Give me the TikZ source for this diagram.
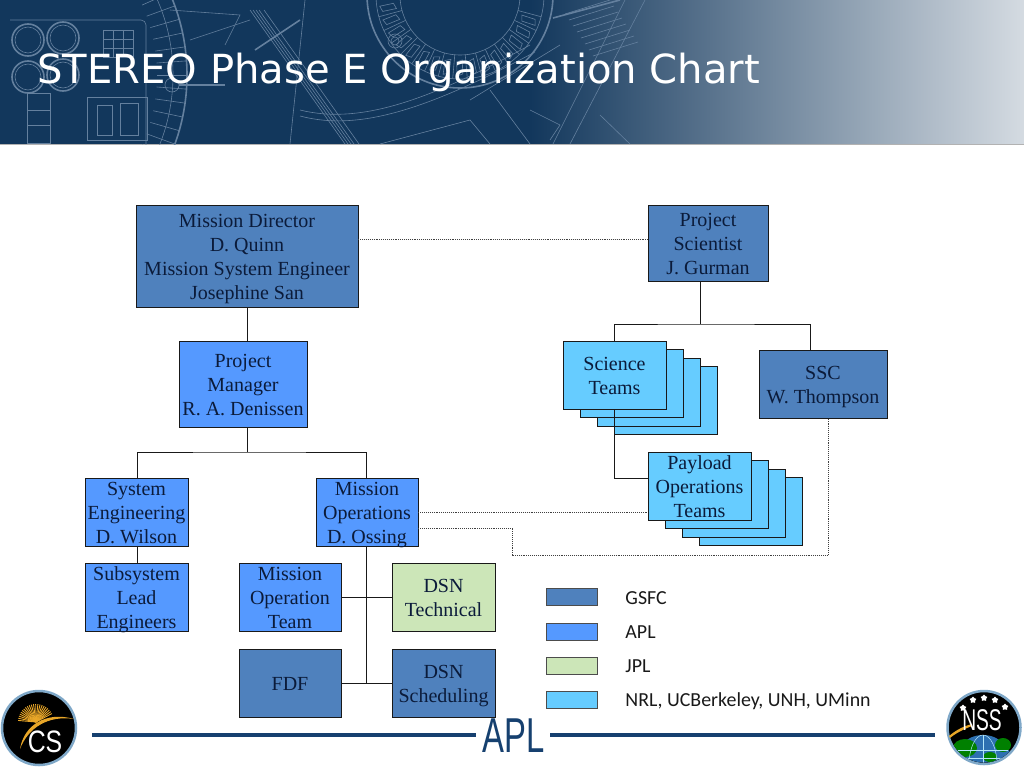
\documentclass[tikz,border=0pt]{standalone}
\usepackage{fontspec}
\setmainfont{Liberation Serif}
\newfontfamily\legendfont{Carlito}
\newfontfamily\titlefont{DejaVu Sans}
\newfontfamily\logofont{Liberation Sans}
\usetikzlibrary{shapes.geometric}

\definecolor{navy}{HTML}{12375C}
\definecolor{sheet}{HTML}{64809E}
\definecolor{ink}{HTML}{0B1B3A}
\definecolor{gsfc}{HTML}{4F81BD}
\definecolor{apl}{HTML}{5599FF}
\definecolor{jpl}{HTML}{CCE6B8}
\definecolor{nrl}{HTML}{66CCFF}
\definecolor{rule}{HTML}{16406F}
\definecolor{badge}{HTML}{7FA8C8}
\definecolor{sun}{HTML}{E8A628}

% box text, centred on the box whatever its number of lines
\newcommand{\unittext}[1]{\raisebox{-7.7pt}[0pt][0pt]{\begin{tabular}{@{}c@{}}#1\end{tabular}}}

\begin{document}
\begin{tikzpicture}[
            x = 1pt, y = -1pt, % reference pixels, y going down
            line width = 0.9pt % line style
        ]

        \tikzstyle{every node}=[inner sep = 0pt]
        \tikzstyle{unit}=[
            draw = black!90,
            rectangle,
            text = ink,
            font = \fontsize{20}{24}\selectfont
        ]
        \tikzstyle{legendbox}=[
            draw = black!70,
            rectangle,
            minimum width = 51pt,
            minimum height = 17pt
        ]
        \tikzstyle{legendtext}=[
            anchor = west,
            text = black!90,
            font = \legendfont\fontsize{19.9}{22}\selectfont
        ]
        \tikzstyle{tie}=[black!90]
        \tikzstyle{dots}=[black!75, line width = 0.9pt, densely dotted]
        \tikzstyle{sheetline}=[sheet, line width = 0.6pt]
        \tikzstyle{sheetband}=[sheet, line width = 1.6pt]

        \useasboundingbox (0,0) rectangle (1024,768);

        % banner
        \fill[navy] (0,0) rectangle (530,144);
        \shade[left color = navy, middle color = navy!48!white, right color = navy!18!white,
            shading angle = 90] (530,0) rectangle (1024,144);
        \fill[black!30] (0,144) rectangle (1024,145);
        \begin{scope}
            \clip (0,0) rectangle (660,144);
            % left drawing
            \coordinate (wheel) at (-15,75);
            \draw[sheetband] (wheel) circle (202);
            \draw[sheetline] (wheel) circle (188);
            \foreach \a in {-36,-32,...,36} {
                \draw[sheetline] (wheel) ++(\a:172) -- ++(\a:30);
            }
            \draw[sheetline, rounded corners = 5pt] (10,20) -- (146,20) -- (146,160);
            \foreach \cx/\cy in {28/40, 63/38, 28/77, 63/75} {
                \draw[sheetband] (\cx,\cy) circle (16);
                \draw[sheetline] (\cx,\cy) circle (13);
            }
            \draw[sheetline] (27,93) rectangle (50,143);
            \draw[sheetline] (27,110) -- (50,110);
            \draw[sheetline] (27,125) -- (50,125);
            \draw[sheetline] (87,97) rectangle (147,140);
            \draw[sheetline] (97,105) rectangle (112,135);
            \draw[sheetline] (120,103) rectangle (138,135);
            \foreach \k in {0,...,3} {
                \draw[sheetline] (103+10*\k,30) -- (103+10*\k,57);
                \draw[sheetline] (103,30+9*\k) -- (133,30+9*\k);
            }
            \draw[sheetline] (172,85) circle (7);
            \draw[sheetband] (179,85) -- (225,85);
            \draw[sheetline] (170,10) -- (240,15) -- (225,45);
            \draw[sheetline] (190,40) -- (250,20);
            % beams across the middle
            \foreach \k in {0,3,6,9,14} {
                \draw[sheetline] (250+\k,10) -- (345+\k,144);
            }
            \draw[sheetband] (300,20) -- (255,50);
            \draw[sheetline] (305,0) -- (290,144);
            \draw[sheetline] (300,110) .. controls (360,125) and (430,100) .. (530,45);
            \draw[sheetline] (300,116) .. controls (360,132) and (430,108) .. (535,52);
            % ring of the right drawing
            \coordinate (ring) at (460,-5);
            \draw[sheetband] (ring) circle (93);
            \draw[sheetline] (ring) circle (84);
            \draw[sheetline] (ring) circle (60);
            \foreach \a in {15,25,...,165} {
                \draw[sheetline] (ring) ++(\a:60) -- ++(\a:24);
                \draw[sheetline] (ring) ++(\a+3:65) -- ++(\a+3:14) -- ++(\a+75:6) -- ++(\a+183:14) -- cycle;
            }
            \draw[sheetline] (395,41) circle (7);
            \draw[sheetline] (395,41) circle (4);
            % right hand sheet
            \foreach \k in {0,...,7} {
                \draw[sheetline] (565+4*\k,14+6*\k) -- (610+4*\k,0+6*\k);
            }
            \draw[sheetband] (553,18) -- (620,0);
            \draw[sheetline] (625,0) -- (553,144);
            \draw[sheetline] (645,0) -- (570,144);
            \draw[sheetline] (470,100) -- (560,45);
            \draw[sheetline] (490,90) -- (530,144);
            \draw[sheetline] (530,110) -- (560,125) -- (550,140);
            \draw[sheetline] (380,144) -- (470,120) -- (490,144);
            \draw[sheetline] (600,115) -- (630,144);
        \end{scope}
        \node[anchor = base west, text = white,
            font = \titlefont\fontsize{40.1}{48}\selectfont] (title) at (37,83)
            {STEREO Phase E Organization Chart};

        % team stacks, back to front
        \foreach \dx/\dy in {51/25.5, 34/17, 17/8.5} {
            \node[unit, fill = nrl, minimum width = 103pt, minimum height = 68pt]
                at (614.5+\dx,375+\dy) {};
            \node[unit, fill = nrl, minimum width = 103pt, minimum height = 68pt]
                at (699.5+\dx,486+\dy) {};
        }

        \node[unit, fill = gsfc, minimum width = 222pt, minimum height = 102pt] (md) at (247,256)
            {\unittext{Mission Director\\D. Quinn\\Mission System Engineer\\Josephine San}};
        \node[unit, fill = gsfc, minimum width = 120pt, minimum height = 76pt] (ps) at (708,243)
            {\unittext{Project\\Scientist\\J. Gurman}};
        \node[unit, fill = apl, minimum width = 128pt, minimum height = 86pt] (pm) at (243,384)
            {\unittext{Project\\Manager\\R. A. Denissen}};
        \node[unit, fill = apl, minimum width = 103pt, minimum height = 68pt] (se) at (136.5,512)
            {\unittext{System\\Engineering\\D. Wilson}};
        \node[unit, fill = apl, minimum width = 102pt, minimum height = 68pt] (mo) at (367,512)
            {\unittext{Mission\\Operations\\D. Ossing}};
        \node[unit, fill = apl, minimum width = 103pt, minimum height = 68pt] (sl) at (136.5,597)
            {\unittext{Subsystem\\Lead\\Engineers}};
        \node[unit, fill = apl, minimum width = 102pt, minimum height = 68pt] (mot) at (290,597)
            {\unittext{Mission\\Operation\\Team}};
        \node[unit, fill = jpl, minimum width = 103pt, minimum height = 68pt] (dt) at (443.5,597)
            {\unittext{DSN\\Technical}};
        \node[unit, fill = gsfc, minimum width = 102pt, minimum height = 68pt] (fdf) at (290,683)
            {\unittext{FDF}};
        \node[unit, fill = gsfc, minimum width = 103pt, minimum height = 68pt] (ds) at (443.5,683)
            {\unittext{DSN\\Scheduling}};
        \node[unit, fill = nrl, minimum width = 103pt, minimum height = 68pt] (st) at (614.5,375)
            {\unittext{Science\\Teams}};
        \node[unit, fill = nrl, minimum width = 103pt, minimum height = 68pt] (pt) at (699.5,486)
            {\unittext{Payload\\Operations\\Teams}};
        \node[unit, fill = gsfc, minimum width = 128pt, minimum height = 68pt] (ssc) at (823,384)
            {\unittext{SSC\\W. Thompson}};

        \coordinate (pmfork) at (247,452);
        \coordinate (psfork) at (700,324);
        \coordinate (ops) at (366,546);
        \coordinate (opsend) at (366,683);
        \coordinate (dotcorner) at (512,528);

        \path[tie] (md.south -| pmfork) edge (pm.north -| pmfork);
        \path[tie] (pm.south -| pmfork) edge (pmfork);
        \draw[tie] (137,478) |- (pmfork) -| (366,478);
        \draw[tie] (137,546) -- (137,563);
        \draw[tie] (psfork) -- (ps.south -| psfork);
        \draw[tie] (st.north) |- (psfork) -| (810,350);
        \draw[tie] (st.south) |- (648,478);
        \draw[tie] (ops) -- (opsend);
        \draw[tie] (mot.east) -- (dt.west);
        \draw[tie] (fdf.east) -- (ds.west);

        \draw[dots] (md.east |- 0,239) -- (ps.west |- 0,239);
        \draw[dots] (mo.east |- 0,512) -- (pt.west |- 0,512);
        \draw[dots] (mo.east |- dotcorner) -- (dotcorner) |- (828,555) -- (828,418);

        % legend
        \node[legendbox, fill = gsfc] (kgsfc) at (571.5,597) {};
        \node[legendbox, fill = apl] (kapl) at (571.5,631.5) {};
        \node[legendbox, fill = jpl] (kjpl) at (571.5,665.5) {};
        \node[legendbox, fill = nrl] (knrl) at (571.5,699.5) {};
        \node[legendtext] (tgsfc) at (625,598) {GSFC};
        \node[legendtext] (tapl) at (625,632) {APL};
        \node[legendtext] (tjpl) at (625,666) {JPL};
        \node[legendtext] (tnrl) at (625,701) {NRL, UCBerkeley, UNH, UMinn};

        % footer
        \node[text = rule, font = \logofont\fontsize{49}{49}\selectfont,
            xscale = 0.67] (apllogo) at (514,736) {APL};
        \coordinate (ruleleft) at (92,735);
        \coordinate (ruleright) at (935,735);
        \draw[rule, line width = 4pt] (ruleleft) -- (476,735);
        \draw[rule, line width = 4pt] (550,735) -- (ruleright);

        % CS badge
        \node[circle, fill = black, draw = badge, line width = 2.5pt,
            minimum size = 74pt] (cs) at (39,728) {};
        \foreach \a in {-175,-168,...,-25} {
            \draw[sun, line width = 0.9pt] (36,722) -- ++(\a:18);
        }
        \fill[sun] (20,749) .. controls (24,725) and (46,711) .. (74,719)
            .. controls (48,715) and (28,728) .. cycle;
        \node[text = white, xscale = 0.8, font = \logofont\fontsize{31}{31}\selectfont] (cstext) at (45,742) {CS};

        % NSS badge
        \node[circle, fill = black, draw = badge, line width = 2.5pt,
            minimum size = 73pt] (nss) at (984,727.5) {};
        \begin{scope}
            \clip (984,727.5) circle (35);
            \fill[cyan!55!blue!85!black] (983,765) circle (30);
            \fill[green!50!black] (965,748) ellipse (12 and 9);
            \fill[green!50!black] (1003,745) ellipse (8 and 7);
            \fill[green!50!black] (990,757) ellipse (7 and 5);
            \draw[white!70!cyan, line width = 0.5pt] (983,765) ellipse (14 and 30);
            \draw[white!70!cyan, line width = 0.5pt] (958,750) -- (1008,750);
            \draw[white!70!cyan, line width = 0.5pt] (955,758) -- (1012,758);
            \draw[white!70!cyan, line width = 0.5pt] (983,735) -- (983,765);
        \end{scope}
        \fill[sun] (949,736) .. controls (956,730) and (964,726) .. (972,724)
            -- (972,726) .. controls (964,729) and (956,733) .. (950,738) -- cycle;
        \node[text = white, xscale = 0.64, font = \logofont\fontsize{30}{30}\selectfont] (nsstext) at (982,720) {NSS};
        \foreach \sx/\sy [count = \i] in {963/708, 973/700, 984/698, 995/700, 1005/707} {
            \node[star, fill = white, minimum size = 7pt] (nstar\i) at (\sx,\sy) {};
        }
  \end{tikzpicture}
\end{document}
